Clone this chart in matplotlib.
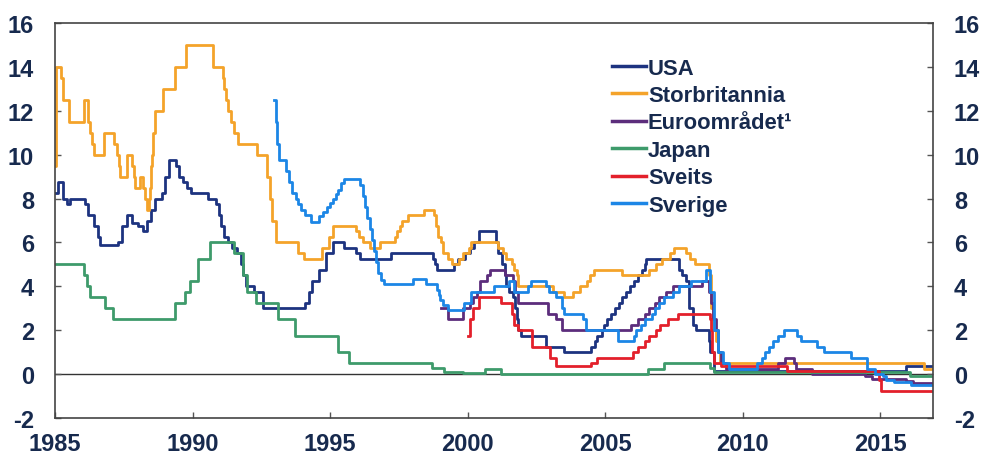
import matplotlib.pyplot as plt

# Policy rates as (year, rate) step breakpoints
usa = [(1985.00, 8.25), (1985.12, 8.75), (1985.30, 8.0), (1985.42, 7.75), (1985.55, 8.0),
       (1986.10, 7.75), (1986.20, 7.25), (1986.40, 6.75), (1986.55, 6.25), (1986.65, 5.875),
       (1987.30, 6.0), (1987.45, 6.75), (1987.60, 7.25), (1987.80, 6.875), (1988.00, 6.75),
       (1988.20, 6.5), (1988.35, 7.0), (1988.50, 7.5), (1988.65, 8.0), (1988.90, 8.25),
       (1989.00, 9.0), (1989.15, 9.75), (1989.40, 9.5), (1989.50, 9.0), (1989.65, 8.75),
       (1989.80, 8.5), (1989.95, 8.25), (1990.55, 8.0), (1990.85, 7.75), (1990.95, 7.25),
       (1991.05, 6.75), (1991.15, 6.25), (1991.30, 6.0), (1991.45, 5.75), (1991.60, 5.5),
       (1991.75, 5.0), (1991.85, 4.5), (1991.95, 4.0), (1992.25, 3.75), (1992.55, 3.0),
       (1994.10, 3.25), (1994.25, 3.75), (1994.35, 4.25), (1994.60, 4.75), (1994.85, 5.5),
       (1995.10, 6.0), (1995.50, 5.75), (1995.95, 5.5), (1996.10, 5.25), (1997.20, 5.5),
       (1998.75, 5.25), (1998.82, 5.0), (1998.90, 4.75), (1999.50, 5.0), (1999.65, 5.25),
       (1999.90, 5.5), (2000.10, 5.75), (2000.25, 6.0), (2000.40, 6.5), (2001.05, 6.0),
       (2001.10, 5.5), (2001.25, 5.0), (2001.35, 4.5), (2001.40, 4.0), (2001.50, 3.75),
       (2001.65, 3.5), (2001.72, 3.0), (2001.78, 2.5), (2001.85, 2.0), (2001.95, 1.75),
       (2002.85, 1.25), (2003.50, 1.0), (2004.50, 1.25), (2004.62, 1.5), (2004.70, 1.75),
       (2004.88, 2.0), (2004.95, 2.25), (2005.05, 2.5), (2005.20, 2.75), (2005.35, 3.0),
       (2005.50, 3.25), (2005.60, 3.5), (2005.75, 3.75), (2005.90, 4.0), (2006.05, 4.25),
       (2006.20, 4.5), (2006.35, 4.75), (2006.45, 5.0), (2006.50, 5.25), (2007.70, 4.75),
       (2007.80, 4.5), (2007.95, 4.25), (2008.05, 3.0), (2008.20, 2.25), (2008.30, 2.0),
       (2008.78, 1.5), (2008.83, 1.0), (2008.95, 0.125), (2015.95, 0.375), (2016.90, 0.375)]

uk = [(1985.00, 9.5), (1985.03, 14.0), (1985.22, 13.5), (1985.28, 12.5), (1985.52, 11.5),
      (1986.05, 12.5), (1986.20, 11.5), (1986.28, 11.0), (1986.35, 10.5), (1986.40, 10.0),
      (1986.78, 11.0), (1987.15, 10.5), (1987.25, 10.0), (1987.32, 9.5), (1987.38, 9.0),
      (1987.62, 10.0), (1987.80, 9.5), (1987.86, 9.0), (1987.92, 8.5), (1988.08, 9.0),
      (1988.20, 8.5), (1988.28, 8.0), (1988.35, 7.5), (1988.42, 8.0), (1988.45, 8.5),
      (1988.48, 9.5), (1988.52, 10.0), (1988.55, 10.5), (1988.58, 11.0), (1988.62, 12.0),
      (1988.92, 13.0), (1989.38, 14.0), (1989.75, 15.0), (1990.76, 14.0), (1991.10, 13.5),
      (1991.16, 13.0), (1991.22, 12.5), (1991.30, 12.0), (1991.40, 11.5), (1991.52, 11.0),
      (1991.66, 10.5), (1992.33, 10.0), (1992.72, 9.0), (1992.80, 8.0), (1992.88, 7.0),
      (1993.05, 6.0), (1993.82, 5.5), (1994.05, 5.25), (1994.70, 5.75), (1994.95, 6.25),
      (1995.10, 6.75), (1995.95, 6.5), (1996.05, 6.25), (1996.20, 6.0), (1996.45, 5.75),
      (1996.80, 6.0), (1997.35, 6.25), (1997.45, 6.5), (1997.55, 6.75), (1997.62, 7.0),
      (1997.85, 7.25), (1998.42, 7.5), (1998.78, 7.25), (1998.85, 6.75), (1998.93, 6.25),
      (1999.02, 6.0), (1999.10, 5.5), (1999.30, 5.25), (1999.45, 5.0), (1999.70, 5.25),
      (1999.85, 5.5), (2000.05, 5.75), (2000.12, 6.0), (2001.12, 5.75), (2001.30, 5.5),
      (2001.40, 5.25), (2001.60, 5.0), (2001.70, 4.75), (2001.78, 4.5), (2001.85, 4.0),
      (2003.10, 3.75), (2003.50, 3.5), (2003.85, 3.75), (2004.10, 4.0), (2004.35, 4.25),
      (2004.45, 4.5), (2004.60, 4.75), (2005.60, 4.5), (2006.60, 4.75), (2006.85, 5.0),
      (2007.05, 5.25), (2007.35, 5.5), (2007.52, 5.75), (2007.95, 5.5), (2008.10, 5.25),
      (2008.28, 5.0), (2008.77, 4.5), (2008.85, 3.0), (2008.92, 2.0), (2009.02, 1.5),
      (2009.10, 1.0), (2009.18, 0.5), (2016.60, 0.25), (2016.90, 0.25)]

euro = [(1999.05, 3.0), (1999.28, 2.5), (1999.85, 3.0), (2000.08, 3.25), (2000.20, 3.5),
        (2000.35, 3.75), (2000.45, 4.25), (2000.70, 4.5), (2000.80, 4.75), (2001.35, 4.5),
        (2001.65, 4.25), (2001.72, 3.75), (2001.85, 3.25), (2002.92, 2.75), (2003.20, 2.5),
        (2003.45, 2.0), (2005.93, 2.25), (2006.20, 2.5), (2006.45, 2.75), (2006.60, 3.0),
        (2006.80, 3.25), (2006.95, 3.5), (2007.20, 3.75), (2007.45, 4.0), (2008.52, 4.25),
        (2008.78, 3.75), (2008.85, 3.25), (2008.92, 2.5), (2009.02, 2.0), (2009.10, 1.0),
        (2009.20, 0.5), (2009.40, 0.25), (2011.30, 0.5), (2011.55, 0.75), (2011.85, 0.5),
        (2011.95, 0.25), (2012.52, 0.0), (2014.45, -0.1), (2014.70, -0.2), (2015.93, -0.3),
        (2016.20, -0.4), (2016.90, -0.4)]

japan = [(1985.00, 5.0), (1986.05, 4.5), (1986.18, 4.0), (1986.28, 3.5), (1986.82, 3.0),
         (1987.12, 2.5), (1989.38, 3.25), (1989.72, 3.75), (1989.92, 4.25), (1990.20, 5.25),
         (1990.65, 6.0), (1991.50, 5.5), (1991.85, 4.5), (1991.98, 3.75), (1992.30, 3.25),
         (1993.10, 2.5), (1993.72, 1.75), (1995.28, 1.0), (1995.68, 0.5), (1998.70, 0.3),
         (1999.15, 0.1), (1999.85, 0.03), (2000.62, 0.25), (2001.20, 0.0), (2006.55, 0.25),
         (2007.15, 0.5), (2008.82, 0.3), (2008.97, 0.1), (2016.10, -0.1), (2016.90, -0.1)]

sveits = [(2000.00, 1.75), (2000.08, 2.5), (2000.20, 3.0), (2000.40, 3.5), (2001.20, 3.25),
          (2001.62, 2.75), (2001.70, 2.25), (2001.85, 2.0), (2002.35, 1.25), (2003.00, 0.75),
          (2003.20, 0.375), (2004.50, 0.5), (2004.70, 0.75), (2006.00, 1.0), (2006.20, 1.25),
          (2006.45, 1.5), (2006.60, 1.75), (2006.85, 2.0), (2007.00, 2.25), (2007.30, 2.5),
          (2007.65, 2.75), (2008.80, 2.5), (2008.85, 2.0), (2008.90, 1.0), (2008.95, 0.5),
          (2009.20, 0.375), (2011.60, 0.125), (2014.95, -0.25), (2015.04, -0.75), (2016.90, -0.75)]

sverige = [(1992.95, 12.5), (1993.02, 11.5), (1993.08, 10.5), (1993.15, 9.75), (1993.40, 9.25),
           (1993.50, 8.75), (1993.60, 8.25), (1993.75, 8.0), (1993.85, 7.75), (1993.95, 7.5),
           (1994.10, 7.25), (1994.30, 6.95), (1994.60, 7.2), (1994.75, 7.4), (1994.90, 7.6),
           (1995.00, 7.8), (1995.10, 8.0), (1995.20, 8.2), (1995.30, 8.4), (1995.40, 8.7),
           (1995.50, 8.91), (1996.10, 8.6), (1996.20, 8.1), (1996.28, 7.6), (1996.35, 7.1),
           (1996.45, 6.6), (1996.52, 6.1), (1996.60, 5.6), (1996.68, 5.1), (1996.75, 4.6),
           (1996.85, 4.3), (1996.95, 4.1), (1998.00, 4.35), (1998.50, 4.1), (1998.90, 3.85),
           (1998.95, 3.6), (1999.00, 3.4), (1999.12, 3.15), (1999.28, 2.9), (1999.87, 3.25),
           (2000.12, 3.75), (2000.95, 4.0), (2001.50, 4.25), (2001.70, 3.75), (2002.20, 4.0),
           (2002.30, 4.25), (2002.85, 4.0), (2002.95, 3.75), (2003.20, 3.5), (2003.45, 3.0),
           (2003.52, 2.75), (2004.20, 2.5), (2004.30, 2.0), (2005.48, 1.5), (2006.05, 1.75),
           (2006.12, 2.0), (2006.30, 2.25), (2006.45, 2.5), (2006.70, 2.75), (2006.80, 3.0),
           (2006.95, 3.25), (2007.15, 3.5), (2007.45, 3.75), (2007.70, 4.0), (2008.12, 4.25),
           (2008.68, 4.75), (2008.80, 4.25), (2008.83, 3.75), (2008.95, 2.0), (2009.12, 1.0),
           (2009.30, 0.5), (2009.52, 0.25), (2010.52, 0.5), (2010.70, 0.75), (2010.80, 1.0),
           (2010.95, 1.25), (2011.12, 1.5), (2011.30, 1.75), (2011.52, 2.0), (2011.97, 1.75),
           (2012.12, 1.5), (2012.70, 1.25), (2012.95, 1.0), (2013.95, 0.75), (2014.52, 0.25),
           (2014.80, 0.0), (2015.12, -0.1), (2015.22, -0.25), (2015.52, -0.35), (2016.12, -0.5),
           (2016.90, -0.5)]

series = [("USA", usa, "#1d3380"),
          ("Storbritannia", uk, "#f4a32a"),
          ("Euroområdet\u00b9", euro, "#5c2d7c"),
          ("Japan", japan, "#3e9b6b"),
          ("Sveits", sveits, "#e3202b"),
          ("Sverige", sverige, "#1c86e6")]

xticks = [1985, 1990, 1995, 2000, 2005, 2010, 2015]
yticks = list(range(-2, 17, 2))

text_col = "#172a4e"
plt.rcParams['font.family'] = ['Liberation Sans', 'DejaVu Sans']
plt.rcParams['font.weight'] = 'bold'
plt.rcParams['axes.unicode_minus'] = False

fig = plt.figure(figsize=(9.84, 4.56), dpi=100)
ax = fig.add_axes([55 / 984, 37 / 456, 878 / 984, 395 / 456])

ax.axhline(0, color="#333333", lw=1.0, zorder=1)

for name, pts, col in series:
    t = [p[0] for p in pts]
    v = [p[1] for p in pts]
    ax.step(t, v, where='post', color=col, lw=2.0, label=name, zorder=2)

ax.set_xlim(1985, 2016.92)
ax.set_ylim(-2, 16)
ax.set_xticks(xticks)
ax.set_yticks(yticks)

for s in ax.spines.values():
    s.set_color("#444444")
    s.set_linewidth(1.2)

ax.tick_params(axis='both', direction='in', length=4, width=1, color="#555555",
               labelsize=17, labelcolor=text_col)
ax.tick_params(axis='y', left=True, right=True, labelleft=True, labelright=True, pad=15)
ax.tick_params(axis='x', pad=10)

leg = ax.legend(loc='upper left', bbox_to_anchor=(0.634, 0.912), frameon=False,
                borderpad=0, borderaxespad=0, handlelength=1.55, handletextpad=0.1,
                labelspacing=0.29, prop={'size': 15.8, 'weight': 'bold'})
for txt in leg.get_texts():
    txt.set_color(text_col)
for line in leg.get_lines():
    line.set_linewidth(2.5)

fig.savefig("out.png", dpi=100)
